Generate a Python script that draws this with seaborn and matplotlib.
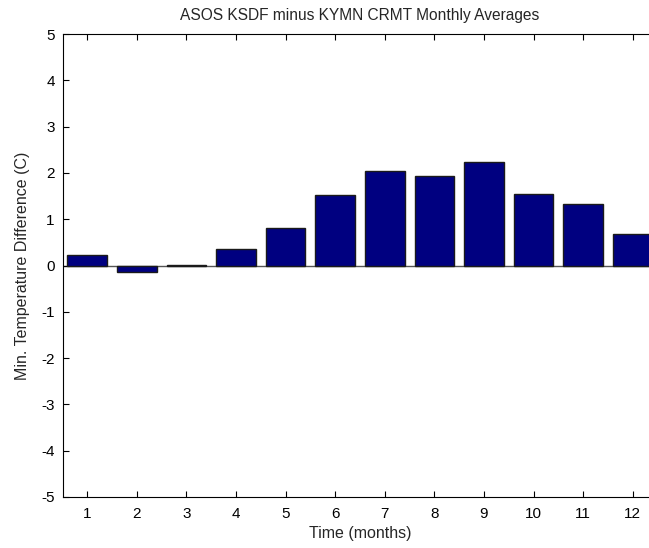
import matplotlib
matplotlib.use("Agg")
import matplotlib.pyplot as plt
import seaborn as sns
import pandas as pd

months = [1, 2, 3, 4, 5, 6, 7, 8, 9, 10, 11, 12]
diffs = [0.22, -0.15, 0.02, 0.36, 0.81, 1.52, 2.05, 1.94, 2.23, 1.55, 1.32, 0.68]
yticks = [-5, -4, -3, -2, -1, 0, 1, 2, 3, 4, 5]

sns.set_style("white")
plt.rcParams['font.family'] = ['Liberation Sans', 'DejaVu Sans']

fig = plt.figure(figsize=(6.49, 5.48), dpi=100)
ax = fig.add_axes([62.5/649, 51/548, 595/649, 463/548])

df = pd.DataFrame({"month": months, "diff": diffs})
sns.barplot(data=df, x="month", y="diff", native_scale=True, color="#000080",
            saturation=1, width=0.8, edgecolor="#1a1a1a", linewidth=1.0, ax=ax)

ax.axhline(0, color="#555555", linewidth=1.0, zorder=0.5)
ax.set_xlim(0.5, 12.5)
ax.set_ylim(-5, 5)
ax.set_xticks(months)
ax.set_xticklabels([str(m) for m in months])
ax.set_yticks(yticks)
ax.set_yticklabels([str(t) for t in yticks])
ax.tick_params(direction="in", length=4.2, width=0.8, top=True, right=True,
               bottom=True, left=True, labelsize=11, colors="black")
ax.tick_params(axis="y", pad=5.5)
ax.tick_params(axis="x", pad=7)
for s in ax.spines.values():
    s.set_color("black")
    s.set_linewidth(0.8)
    s.set_visible(True)
ax.set_xlabel("Time (months)", fontsize=11.5, labelpad=4)
ax.set_ylabel("Min. Temperature Difference (C)", fontsize=11.5, labelpad=8)
ax.set_title("ASOS KSDF minus KYMN CRMT Monthly Averages", fontsize=11.2, pad=10)

fig.savefig("out.png", dpi=100)
